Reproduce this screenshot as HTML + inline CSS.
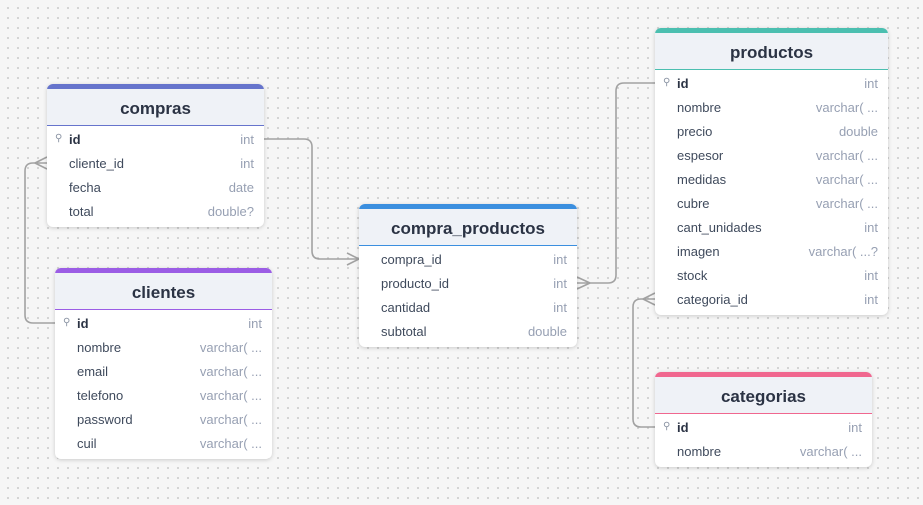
<!DOCTYPE html>
<html><head><meta charset="utf-8"><style>
*{box-sizing:border-box;margin:0;padding:0}
body{width:923px;height:505px;overflow:hidden;background-color:#f6f6f6;background-image:radial-gradient(circle,#c8c8c8 0.8px,transparent 1px);background-size:10px 10px;background-position:3px 3px;font-family:"Liberation Sans",sans-serif;position:relative}
.t{position:absolute;background:#fff;border-radius:6px;box-shadow:0 1px 4px rgba(0,0,0,0.18);overflow:hidden}
.h{height:42px;background:#eff2f7;border-top:5px solid;border-bottom:1px solid #dde3ec;text-align:center;font-weight:bold;font-size:17px;color:#2b3344;line-height:36px;padding-top:2px}
.r{height:24px;display:flex;justify-content:space-between;align-items:center;padding:0 10px 0 22px;font-size:13px;color:#3f4a5c;position:relative}
.r span:last-child{color:#97a0b3}
.r b{color:#2b3344}
.k{position:absolute;left:8px;top:6px;font-size:10px;color:#8a93a3}
.b{padding-top:1px;padding-bottom:4px}
svg{position:absolute;left:0;top:0}
</style></head><body>
<svg width="923" height="505" fill="none" stroke="#a2a2a2" stroke-width="1.6">
<path d="M264 139 H304 Q312 139 312 147 V251 Q312 259 320 259 H359"/>
<path d="M347 253 L359 259 L347 265"/>
<path d="M577 283 H608 Q616 283 616 275 V91 Q616 83 624 83 H655"/>
<path d="M590 283 L577 277 M590 283 L577 289"/>
<path d="M47 163 H33 Q25 163 25 171 V315 Q25 323 33 323 H55"/>
<path d="M35 163 L47 157 M35 163 L47 169"/>
<path d="M655 299 H641 Q633 299 633 307 V419 Q633 427 641 427 H655"/>
<path d="M643 299 L655 293 M643 299 L655 305"/>
</svg>

<div class="t" style="left:47px;top:84px;width:217px">
<div class="h" style="border-color:#6674cc">compras</div>
<div class="b">
<div class="r"><span class="k">⚲</span><b>id</b><span>int</span></div>
<div class="r"><span>cliente_id</span><span>int</span></div>
<div class="r"><span>fecha</span><span>date</span></div>
<div class="r"><span>total</span><span>double?</span></div>
</div></div>

<div class="t" style="left:55px;top:268px;width:217px">
<div class="h" style="border-color:#9b5de5">clientes</div>
<div class="b">
<div class="r"><span class="k">⚲</span><b>id</b><span>int</span></div>
<div class="r"><span>nombre</span><span>varchar( ...</span></div>
<div class="r"><span>email</span><span>varchar( ...</span></div>
<div class="r"><span>telefono</span><span>varchar( ...</span></div>
<div class="r"><span>password</span><span>varchar( ...</span></div>
<div class="r"><span>cuil</span><span>varchar( ...</span></div>
</div></div>

<div class="t" style="left:359px;top:204px;width:218px">
<div class="h" style="border-color:#3b8fdf">compra_productos</div>
<div class="b">
<div class="r"><span>compra_id</span><span>int</span></div>
<div class="r"><span>producto_id</span><span>int</span></div>
<div class="r"><span>cantidad</span><span>int</span></div>
<div class="r"><span>subtotal</span><span>double</span></div>
</div></div>

<div class="t" style="left:655px;top:28px;width:233px">
<div class="h" style="border-color:#4bbfb0">productos</div>
<div class="b">
<div class="r"><span class="k">⚲</span><b>id</b><span>int</span></div>
<div class="r"><span>nombre</span><span>varchar( ...</span></div>
<div class="r"><span>precio</span><span>double</span></div>
<div class="r"><span>espesor</span><span>varchar( ...</span></div>
<div class="r"><span>medidas</span><span>varchar( ...</span></div>
<div class="r"><span>cubre</span><span>varchar( ...</span></div>
<div class="r"><span>cant_unidades</span><span>int</span></div>
<div class="r"><span>imagen</span><span>varchar( ...?</span></div>
<div class="r"><span>stock</span><span>int</span></div>
<div class="r"><span>categoria_id</span><span>int</span></div>
</div></div>

<div class="t" style="left:655px;top:372px;width:217px">
<div class="h" style="border-color:#f0678f">categorias</div>
<div class="b">
<div class="r"><span class="k">⚲</span><b>id</b><span>int</span></div>
<div class="r"><span>nombre</span><span>varchar( ...</span></div>
</div></div>
</body></html>
